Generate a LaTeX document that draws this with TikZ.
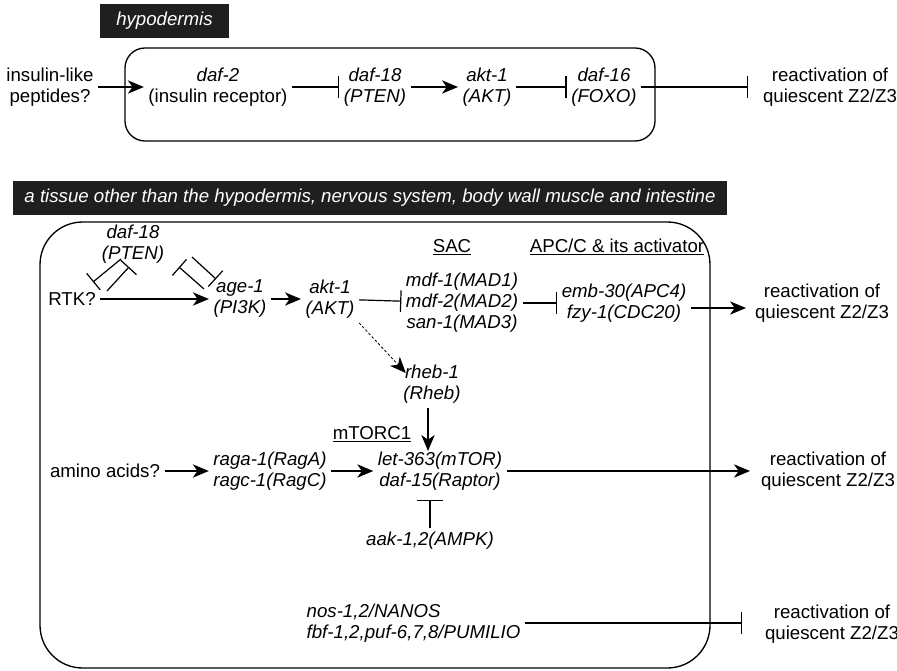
\documentclass[tikz,border=0pt]{standalone}
\usepackage{fontspec}
\setmainfont{Liberation Sans}
\usetikzlibrary{arrows.meta,calc}
\begin{document}
\begin{tikzpicture}[x=0.75pt,y=-0.75pt,
  every node/.style={font=\fontsize{14}{15.75}\selectfont, align=center, inner sep=0pt, outer sep=3.5pt},
  gene/.style={font=\fontsize{14}{15.75}\selectfont\itshape},
  hdr/.style={fill=black!88, text=white, outer sep=0pt, font=\fontsize{14}{15.75}\selectfont\itshape},
  act/.style={-{Stealth[length=12pt,width=10pt,inset=3.5pt]}, line width=0.9pt},
  inh/.style={-{Bar[width=16pt,line width=0.9pt]}, line width=0.9pt},
  frame/.style={line width=1pt}]
\useasboundingbox (0,0) rectangle (897,671);

% ---------- hypodermis ----------
\node[hdr, minimum width=96.75pt, minimum height=25.5pt] (hyp) at (164.5,20.5) {hypodermis};
\draw[frame, rounded corners=15pt] (125,48) rectangle (655,141);

\node (ins) at (50,87) {insulin-like\\peptides?};
\node (daf2) at (218,87) {\textit{daf-2}\\(insulin receptor)};
\node[gene] (daf18) at (375,87) {daf-18\\(PTEN)};
\node[gene] (akt) at (487,87) {akt-1\\(AKT)};
\node[gene] (daf16) at (604,87) {daf-16\\(FOXO)};
\node (re1) at (830,87) {reactivation of\\quiescent Z2/Z3};
\coordinate (re1bar) at (748,87);

\draw[act] (ins) -- (daf2);
\draw[inh] (daf2) -- (daf18);
\draw[act] (daf18) -- (akt);
\draw[inh] (akt) -- (daf16);
\draw[inh] (daf16) -- (re1bar);

% ---------- other tissue ----------
\node[hdr, minimum width=535.5pt, minimum height=25.5pt] (tis) at (370,198)
  {a tissue other than the hypodermis, nervous system, body wall muscle and intestine};
\draw[frame, rounded corners=32pt] (40,222) rectangle (710,668);

\node[gene] (pten) at (133,244) {daf-18\\(PTEN)};
\node (rtk) at (72,299) {RTK?};
\node[gene] (age) at (240,299) {age-1\\(PI3K)};
\node[gene] (akt2) at (330,299) {akt-1\\(AKT)};
\node (sac) at (452,247) {\underline{SAC}};
\node (apc) at (617,247) {\underline{APC/C \& its activator}};
\node[gene] (mdf) at (462,303) {mdf-1(MAD1)\\mdf-2(MAD2)\\san-1(MAD3)};
\node[gene] (emb) at (624,303) {emb-30(APC4)\\fzy-1(CDC20)};
\node (re2) at (822,303) {reactivation of\\quiescent Z2/Z3};
\coordinate (re2tip) at (746,308);

\coordinate (p1a) at (121,259); \coordinate (p1b) at (93,282);
\coordinate (p2a) at (107,291); \coordinate (p2b) at (129,267);
\coordinate (p3a) at (204,289); \coordinate (p3b) at (179,267);
\coordinate (p4a) at (192,257); \coordinate (p4b) at (216,279);
\draw[inh] (p1a) -- (p1b);
\draw[inh] (p2a) -- (p2b);
\draw[inh] (p3a) -- (p3b);
\draw[inh] (p4a) -- (p4b);

\draw[act] (rtk) -- (age);
\draw[act] (age) -- (akt2);
\draw[inh] (akt2) -- (mdf);
\draw[inh] (mdf) -- (emb);
\draw[act] (emb.east |- re2tip) -- (re2tip);

\node[gene] (rheb) at (432,384) {rheb-1\\(Rheb)};
\draw[act, dash pattern=on 2pt off 1.5pt, line width=0.6pt] (akt2.south east) -- ($(rheb.west)+(7,-11)$);

\node (mtorc) at (372,434) {\underline{mTORC1}};
\node[gene] (mtor) at (440,471) {let-363(mTOR)\\daf-15(Raptor)};
\node[gene] (rag) at (270,471) {raga-1(RagA)\\ragc-1(RagC)};
\node (aa) at (105,471) {amino acids?};
\node (re3) at (828,471) {reactivation of\\quiescent Z2/Z3};
\coordinate (re3tip) at (750,471);
\node[gene] (ampk) at (430,541) {aak-1,2(AMPK)};

\draw[act] (rheb.south -| 428,0) -- (428,451);
\draw[act] (aa) -- (rag);
\draw[act] (rag) -- (mtor);
\draw[act] (mtor) -- (re3tip);
\draw[{Bar[width=20pt,line width=0.9pt]}-, line width=0.9pt] (ampk.north |- 0,500) -- (ampk.north);

\node[gene, align=left, anchor=west] (nos) at (302,623) {nos-1,2/NANOS\\fbf-1,2,puf-6,7,8/PUMILIO};
\node (re4) at (832,624) {reactivation of\\quiescent Z2/Z3};
\coordinate (re4bar) at (742,623);
\draw[inh] (nos) -- (re4bar);
\end{tikzpicture}
\end{document}
